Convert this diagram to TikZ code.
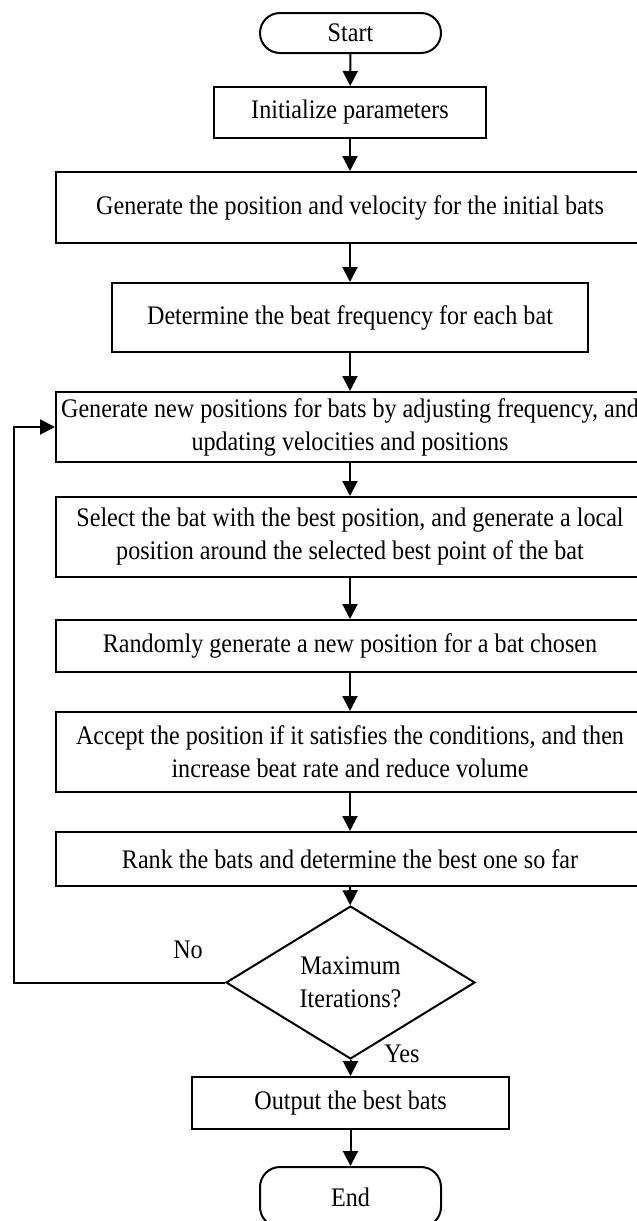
\documentclass[tikz,border=0pt]{standalone}
\usepackage{fontspec}
\setmainfont{Liberation Serif}[FakeStretch=0.9]
\usetikzlibrary{%
  arrows.meta,%
  shapes.geometric%
}
\tikzset{>={Triangle[length=7.5pt,width=7.5pt]},%
  pbox/.style={draw,line width=1pt,align=center,inner sep=1pt},%
  tbox/.style={pbox,rounded corners=10pt},%
  dbox/.style={draw,diamond,line width=1pt,align=center,inner sep=0pt},%
  farrow/.style={->,line width=1pt}}

\begin{document}
\begin{tikzpicture}[x=0.5pt,y=-0.5pt,font=\fontsize{13.4}{16.5}\selectfont]
      \clip (0,0) rectangle (637,1221);
      \node[tbox,minimum width=90.5pt,minimum height=20pt] (start) at (350.5,33) {Start};
      \node[pbox,minimum width=136pt,minimum height=25.5pt] (init) at (350,112.5)
      {Initialize parameters};
      \node[pbox,minimum width=294pt,minimum height=35.5pt] (genpos) at (350,207.5)
      {Generate the position and velocity for the initial bats};
      \node[pbox,minimum width=238pt,minimum height=34.5pt] (beat) at (350,317.5)
      {Determine the beat frequency for each bat};
      \node[pbox,minimum width=294pt,minimum height=35pt] (newpos) at (350,427)
      {Generate new positions for bats by adjusting frequency, and\\
        updating velocities and positions};
      \node[pbox,minimum width=294pt,minimum height=40pt] (select) at (350,537)
      {Select the bat with the best position, and generate a local\\
        position around the selected best point of the bat};
      \node[pbox,minimum width=294pt,minimum height=26pt] (random) at (350,646)
      {Randomly generate a new position for a bat chosen};
      \node[pbox,minimum width=294pt,minimum height=40pt] (accept) at (350,752)
      {Accept the position if it satisfies the conditions, and then\\
        increase beat rate and reduce volume};
      \node[pbox,minimum width=294pt,minimum height=27pt] (rank) at (350,859)
      {Rank the bats and determine the best one so far};
      \node[dbox,minimum width=124.5pt,minimum height=59.5pt] (check) at (350.5,982.5)
      {Maximum\\Iterations?};
      \node[pbox,minimum width=158.5pt,minimum height=26pt] (output) at (350.5,1103)
      {Output the best bats};
      \node[tbox,minimum width=90.5pt,minimum height=30pt] (end) at (350.5,1197) {End};
      \foreach \a/\b in {start/init,init/genpos,genpos/beat,beat/newpos,newpos/select,%
        select/random,random/accept,accept/rank,rank/check,check/output,output/end}
      {\draw[farrow] (\a) -- (\b);};
      % loop back when the limit is not reached
      \coordinate (back) at (14,982.5);
      \draw[farrow] (check.west) -- (back) |- (newpos.west);
      \node (no) at (188,950) {No};
      \node (yes) at (402,1054) {Yes};
    \end{tikzpicture}
\end{document}
